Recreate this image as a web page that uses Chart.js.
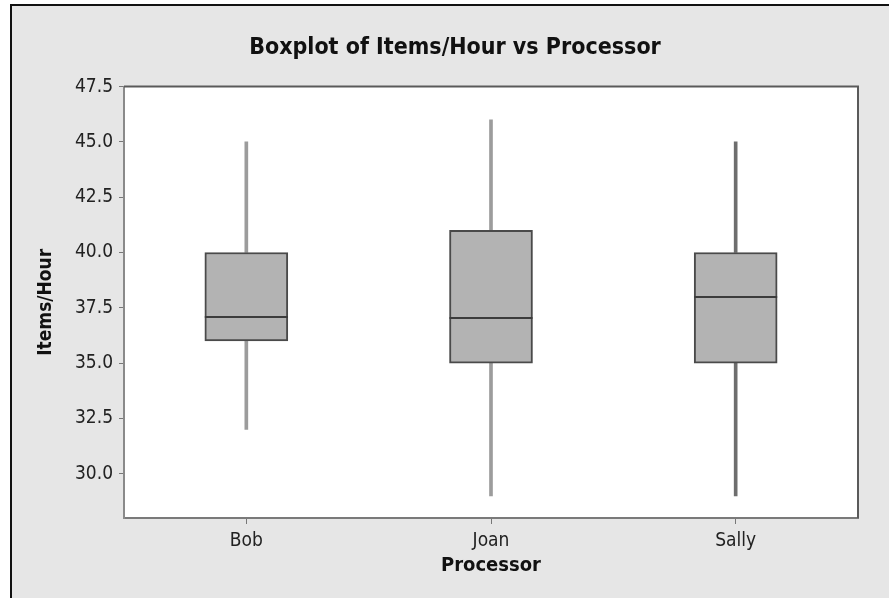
<!DOCTYPE html>
<html>
<head>
<meta charset="utf-8">
<title>Boxplot of Items/Hour vs Processor</title>
<script src="https://cdn.jsdelivr.net/npm/chart.js@4.4.1/dist/chart.umd.min.js"></script>
<style>
    html, body { margin: 0; padding: 0; background: #fff; }
    #wrap { width: 889px; height: 598px; }
</style>
</head>
<body>
<div id="wrap"><canvas id="chart" width="889" height="598"></canvas></div>
<script>
// Data
const processors = ['Bob', 'Joan', 'Sally'];
const whiskerLow = [32, 29, 29];
const q1 = [36, 35, 35];
const medians = [37.1, 37.05, 38];
const q3 = [40, 41, 40];
const whiskerHigh = [45, 46, 45];
const yTicks = [30, 32.5, 35, 37.5, 40, 42.5, 45, 47.5];

const FONT = "'DejaVu Sans Condensed', 'DejaVu Sans', sans-serif";
const whiskerColors = ['#9c9c9c', '#9c9c9c', '#6e6e6e'];

// Grey Minitab-style backdrop with the black frame lines at top and left
const backdrop = {
    id: 'backdrop',
    afterLayout(chart) {
        // centre the title over the whole figure, not just left of the padding
        chart.titleBlock.left += 52;
    },
    beforeDraw(chart) {
        const ctx = chart.ctx;
        ctx.save();
        ctx.fillStyle = '#ffffff';
        ctx.fillRect(0, 0, chart.width, chart.height);
        ctx.fillStyle = '#e6e6e6';
        ctx.fillRect(11, 5, chart.width - 11, chart.height - 5);
        ctx.strokeStyle = '#111';
        ctx.lineWidth = 2;
        ctx.beginPath();
        ctx.moveTo(11, chart.height);
        ctx.lineTo(11, 5);
        ctx.lineTo(chart.width, 5);
        ctx.stroke();
        const a = chart.chartArea;
        ctx.fillStyle = '#ffffff';
        ctx.fillRect(a.left, a.top, a.right - a.left, a.bottom - a.top);
        ctx.restore();
    }
};

// Median lines and the top/right edges of the plot frame
const boxExtras = {
    id: 'boxExtras',
    afterDatasetsDraw(chart) {
        const ctx = chart.ctx;
        const y = chart.scales.y;
        const a = chart.chartArea;
        const meta = chart.getDatasetMeta(0);
        ctx.save();
        ctx.strokeStyle = '#3c3c3c';
        ctx.lineWidth = 2;
        meta.data.forEach((bar, i) => {
            const py = Math.round(y.getPixelForValue(medians[i]));
            ctx.beginPath();
            ctx.moveTo(bar.x - bar.width / 2, py);
            ctx.lineTo(bar.x + bar.width / 2, py);
            ctx.stroke();
        });
        ctx.strokeStyle = '#5a5a5a';
        ctx.beginPath();
        ctx.moveTo(a.left, a.top);
        ctx.lineTo(a.right, a.top);
        ctx.lineTo(a.right, a.bottom);
        ctx.stroke();
        ctx.restore();
    }
};

new Chart(document.getElementById('chart'), {
    type: 'bar',
    data: {
        labels: processors,
        datasets: [
            {
                label: 'Box',
                data: q1.map((v, i) => [v, q3[i]]),
                backgroundColor: '#b3b3b3',
                borderColor: '#4a4a4a',
                borderWidth: 2,
                borderSkipped: false,
                barThickness: 83,
                grouped: false
            },
            {
                label: 'Upper whisker',
                data: q3.map((v, i) => [v, whiskerHigh[i]]),
                backgroundColor: whiskerColors,
                borderWidth: 0,
                barThickness: 3,
                grouped: false
            },
            {
                label: 'Lower whisker',
                data: whiskerLow.map((v, i) => [v, q1[i]]),
                backgroundColor: whiskerColors,
                borderWidth: 0,
                barThickness: 3,
                grouped: false
            }
        ]
    },
    options: {
        responsive: false,
        animation: false,
        layout: {
            padding: { left: 0, right: 31, top: 0, bottom: 0 }
        },
        plugins: {
            legend: { display: false },
            tooltip: { enabled: false },
            title: {
                display: true,
                text: 'Boxplot of Items/Hour vs Processor',
                color: '#111',
                font: { family: FONT, size: 23, weight: 'bold' },
                padding: { top: 34, bottom: 25 }
            }
        },
        scales: {
            x: {
                offset: true,
                grid: {
                    offset: false,
                    drawOnChartArea: false,
                    drawTicks: true,
                    tickLength: 6,
                    tickColor: '#777',
                    color: '#777'
                },
                border: { color: '#7a7a7a', width: 2 },
                ticks: {
                    color: '#222',
                    padding: 6,
                    font: { family: FONT, size: 19 }
                },
                title: {
                    display: true,
                    text: 'Processor',
                    color: '#111',
                    font: { family: FONT, size: 20, weight: 'bold' },
                    padding: { top: 0, bottom: 20 }
                },
                afterFit(scale) { scale.height = 80; }
            },
            y: {
                min: 28,
                max: 47.5,
                grid: {
                    drawOnChartArea: false,
                    drawTicks: true,
                    tickLength: 5,
                    tickColor: '#777',
                    color: '#777'
                },
                border: { color: '#8a8a8a', width: 2 },
                ticks: {
                    color: '#222',
                    padding: 6,
                    font: { family: FONT, size: 19 },
                    callback: (v) => Number(v).toFixed(1)
                },
                afterBuildTicks(scale) {
                    scale.ticks = yTicks.map(v => ({ value: v }));
                },
                title: {
                    display: true,
                    text: 'Items/Hour',
                    color: '#111',
                    font: { family: FONT, size: 19, weight: 'bold' },
                    padding: { top: 35, bottom: 0 }
                },
                afterFit(scale) { scale.width = 124; }
            }
        }
    },
    plugins: [backdrop, boxExtras]
});
</script>
</body>
</html>
